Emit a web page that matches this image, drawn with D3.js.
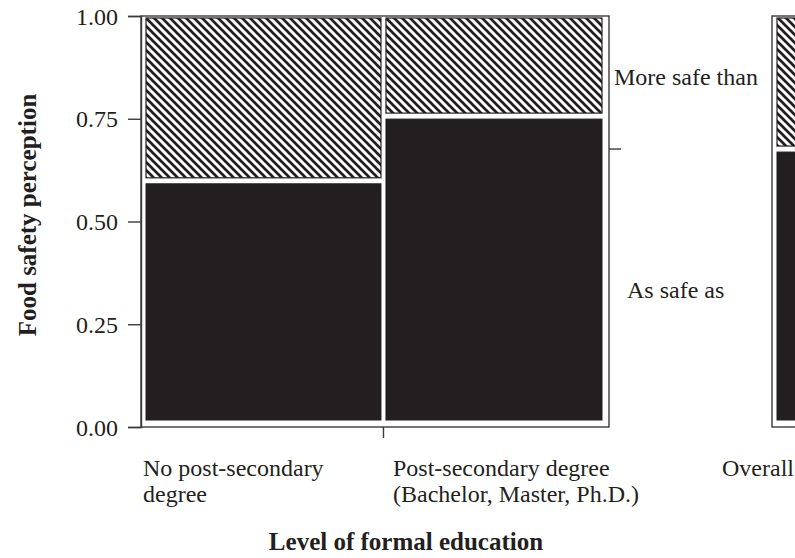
<!DOCTYPE html>
<html>
<head>
<meta charset="utf-8">
<script src="https://cdn.jsdelivr.net/npm/d3@7"></script>
<style>
  html, body { margin: 0; padding: 0; background: #fff; }
  svg { display: block; }
  text { font-family: "Liberation Serif", "Times New Roman", serif; fill: #231f20; }
</style>
</head>
<body>
<svg id="chart" width="795" height="558"></svg>
<script>
// ---- data ----
const categories = ["No post-secondary degree", "Post-secondary degree (Bachelor, Master, Ph.D.)"];
const categoryLabelLines = [["No post-secondary", "degree"], ["Post-secondary degree", "(Bachelor, Master, Ph.D.)"]];
const groupShares = [0.521, 0.479];          // relative width of each education group
const asSafeAs = [0.595, 0.756];             // share "As safe as"
const moreSafeThan = [0.405, 0.244];         // share "More safe than"
const overallAsSafeAs = 0.674;
const overallMoreSafeThan = 0.326;
const overallLabel = "Overall";
const responseLabels = ["As safe as", "More safe than"];
const yTicks = [0, 0.25, 0.5, 0.75, 1];
const yTickLabels = ["0.00", "0.25", "0.50", "0.75", "1.00"];

// ---- layout ----
const svg = d3.select("#chart");
const dark = "#231f20";
const frame = { x0: 141, x1: 609, y0: 16, y1: 427 };
const gap = 5, vgap = 6;

const yAxisScale = d3.scaleLinear().domain([0, 1]).range([frame.y1, frame.y0]);
const yBar = d3.scaleLinear().domain([0, 1]).range([420, 18]);
const xBar = d3.scaleLinear().domain([0, 1]).range([146, 146 + 451]);

// hatch pattern
const defs = svg.append("defs");
const pat = defs.append("pattern")
  .attr("id", "hatch").attr("patternUnits", "userSpaceOnUse")
  .attr("width", 8).attr("height", 8);
pat.append("rect").attr("width", 8).attr("height", 8).attr("fill", "#fff");
pat.append("path").attr("d", "M-1,-1 L9,9 M-1,7 L1,9 M7,-1 L9,1")
  .attr("stroke", dark).attr("stroke-width", 2.7);

// frame
svg.append("rect")
  .attr("x", frame.x0).attr("y", frame.y0)
  .attr("width", frame.x1 - frame.x0).attr("height", frame.y1 - frame.y0)
  .attr("fill", "none").attr("stroke", "#3a3a3a").attr("stroke-width", 1.4);

// y axis
const yAxis = d3.axisLeft(yAxisScale).tickValues(yTicks)
  .tickFormat((d, i) => yTickLabels[i]).tickSize(13).tickPadding(10);
const gy = svg.append("g").attr("transform", `translate(${frame.x0},0)`).call(yAxis);
gy.select(".domain").attr("stroke", "#3a3a3a").attr("stroke-width", 1.4);
gy.selectAll(".tick line").attr("stroke", "#3a3a3a").attr("stroke-width", 1.4);
gy.selectAll(".tick text").attr("font-size", 24).attr("font-family", "Liberation Serif, serif")
  .attr("fill", dark).attr("dy", "0.34em");

// bars
let cum = 0;
const groups = groupShares.map((s, i) => {
  const x = xBar(cum) + i * gap;
  const w = xBar(s) - xBar(0);
  cum += s;
  return { i, x, w };
});

groups.forEach(g => {
  const p = asSafeAs[g.i];
  const q = moreSafeThan[g.i];
  // dark segment (As safe as)
  svg.append("rect")
    .attr("x", g.x).attr("width", g.w)
    .attr("y", yBar(p) + vgap / 2).attr("height", yBar(0) - yBar(p) - vgap / 2)
    .attr("fill", dark).attr("stroke", dark).attr("stroke-width", 1);
  // hatched segment (More safe than)
  svg.append("rect")
    .attr("x", g.x).attr("width", g.w)
    .attr("y", yBar(p + q)).attr("height", yBar(p) - yBar(p + q) - vgap / 2)
    .attr("fill", "url(#hatch)").attr("stroke", dark).attr("stroke-width", 1.2);
});

// x ticks between groups
const xTickPos = groups.slice(1).map(g => g.x - gap / 2);
svg.selectAll(".xtick").data(xTickPos).enter().append("line")
  .attr("x1", d => d).attr("x2", d => d)
  .attr("y1", frame.y1).attr("y2", frame.y1 + 11)
  .attr("stroke", "#3a3a3a").attr("stroke-width", 1.4);

// right marker tick at overall split
svg.append("line")
  .attr("x1", frame.x1).attr("x2", frame.x1 + 12)
  .attr("y1", yBar(overallAsSafeAs)).attr("y2", yBar(overallAsSafeAs))
  .attr("stroke", "#3a3a3a").attr("stroke-width", 1.4);

// overall bar
const ov = { fx: 772, bx: 777, bw: 40 };
svg.append("rect")
  .attr("x", ov.fx).attr("y", frame.y0).attr("width", 60).attr("height", frame.y1 - frame.y0)
  .attr("fill", "none").attr("stroke", "#3a3a3a").attr("stroke-width", 1.4);
svg.append("rect")
  .attr("x", ov.bx).attr("width", ov.bw)
  .attr("y", yBar(overallAsSafeAs) + vgap / 2)
  .attr("height", yBar(0) - yBar(overallAsSafeAs) - vgap / 2)
  .attr("fill", dark).attr("stroke", dark).attr("stroke-width", 1);
svg.append("rect")
  .attr("x", ov.bx).attr("width", ov.bw)
  .attr("y", yBar(overallAsSafeAs + overallMoreSafeThan))
  .attr("height", yBar(overallAsSafeAs) - yBar(overallAsSafeAs + overallMoreSafeThan) - vgap / 2)
  .attr("fill", "url(#hatch)").attr("stroke", dark).attr("stroke-width", 1.2);

// response labels
svg.append("text").attr("x", 614).attr("y", 85).attr("font-size", 24).text(responseLabels[1]);
svg.append("text").attr("x", 627).attr("y", 298).attr("font-size", 24).text(responseLabels[0]);

// category labels
groups.forEach(g => {
  const t = svg.append("text").attr("x", g.i === 0 ? 143 : 393).attr("y", 476).attr("font-size", 24);
  categoryLabelLines[g.i].forEach((line, k) => {
    t.append("tspan").attr("x", g.i === 0 ? 143 : 393).attr("dy", k === 0 ? 0 : 26).text(line);
  });
});
svg.append("text").attr("x", 722).attr("y", 476).attr("font-size", 24).text(overallLabel);

// axis titles
svg.append("text").attr("x", 406).attr("y", 550).attr("text-anchor", "middle")
  .attr("font-size", 25).attr("font-weight", "bold").text("Level of formal education");
svg.append("text").attr("transform", "translate(36,215) rotate(-90)").attr("text-anchor", "middle")
  .attr("font-size", 25).attr("font-weight", "bold").text("Food safety perception");
</script>
</body>
</html>
